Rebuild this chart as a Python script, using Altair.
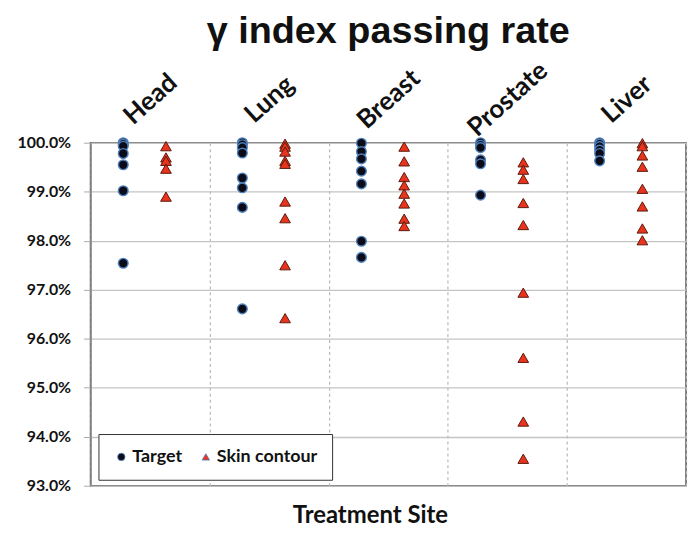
import altair as alt
import pandas as pd

sites = ["Head", "Lung", "Breast", "Prostate", "Liver"]
series = ["Target", "Skin contour"]

# gamma index passing rate (%)
target = {
    "Head": [100.0, 99.97, 99.93, 99.78, 99.55, 99.02, 97.54],
    "Lung": [100.0, 99.96, 99.9, 99.79, 99.28, 99.08, 98.68, 96.61],
    "Breast": [99.99, 99.82, 99.67, 99.42, 99.16, 97.99, 97.66],
    "Prostate": [100.0, 99.95, 99.9, 99.65, 99.57, 98.93],
    "Liver": [100.0, 99.97, 99.92, 99.85, 99.78, 99.63],
}
skin = {
    "Head": [99.93, 99.70, 99.63, 99.47, 98.9],
    "Lung": [99.98, 99.92, 99.82, 99.63, 99.57, 98.8, 98.46, 97.5, 96.42],
    "Breast": [99.92, 99.62, 99.3, 99.13, 98.96, 98.76, 98.45, 98.3],
    "Prostate": [99.6, 99.45, 99.26, 98.77, 98.32, 96.94, 95.61, 94.31, 93.55],
    "Liver": [99.99, 99.93, 99.74, 99.51, 99.06, 98.7, 98.25, 98.01],
}
y_ticks = [93, 94, 95, 96, 97, 98, 99, 100]

rows = []
for s in sites:
    for v in target[s]:
        rows.append({"site": s, "series": "Target", "rate": v / 100})
    for v in skin[s]:
        rows.append({"site": s, "series": "Skin contour", "rate": v / 100})
df = pd.DataFrame(rows)

LABEL_FONT = "Lato"

y_enc = alt.Y(
    "rate:Q",
    scale=alt.Scale(domain=[0.93, 1.0], nice=False, zero=False),
    axis=alt.Axis(
        values=[t / 100 for t in y_ticks],
        format=".1%",
        title=None,
        labelFont=LABEL_FONT,
        labelFontWeight="bold",
        labelFontSize=16,
        labelColor="#111",
        labelPadding=13,
        tickSize=7,
        tickColor="#aaa",
        domainColor="#888",
        domainWidth=1.5,
        gridColor="#c4c4c4",
        gridWidth=1.3,
    ),
)

x_scale = alt.Scale(domain=sites, paddingInner=0, paddingOuter=0)
color = alt.Color(
    "series:N",
    scale=alt.Scale(domain=series, range=["#0c0c18", "#e8341c"]),
    legend=alt.Legend(
        title=None,
        orient="none",
        legendX=8,
        legendY=293,
        direction="horizontal",
        strokeColor="#333",
        fillColor="white",
        padding=14,
        labelFont=LABEL_FONT,
        labelFontWeight="bold",
        labelFontSize=18,
        labelColor="#111",
        labelOffset=2,
        symbolSize=55,
        columnPadding=14,
        symbolStrokeWidth=0.8,
    ),
)
shape = alt.Shape(
    "series:N",
    scale=alt.Scale(domain=series, range=["circle", "triangle-up"]),
)

top_layer = (
    alt.Chart(df)
    .transform_filter(alt.datum.series == "Target")
    .mark_point(filled=True, size=95, opacity=1, stroke="#4f81bd",
                strokeWidth=1.4, xOffset=-27)
    .encode(
        x=alt.X(
            "site:N",
            sort=sites,
            scale=x_scale,
            axis=alt.Axis(
                orient="top",
                title=None,
                labelAngle=-42,
                labelAlign="center",
                labelBaseline="middle",
                labelPadding=44,
                labelFont=LABEL_FONT,
                labelFontWeight="bold",
                labelFontSize=26,
                labelColor="#111",
                ticks=False,
                domain=False,
                grid=True,
                tickBand="extent",
                gridDash=[3, 3],
                gridColor="#b8b8b8",
                gridWidth=1.2,
            ),
        ),
        y=y_enc,
        color=color,
        shape=shape,
    )
)

bottom_layer = (
    alt.Chart(df)
    .transform_filter(alt.datum.series == "Skin contour")
    .mark_point(filled=True, size=115, opacity=1, stroke="#5c1a0e",
                strokeWidth=1, xOffset=16)
    .encode(
        x=alt.X(
            "site:N",
            sort=sites,
            scale=x_scale,
            axis=alt.Axis(
                orient="bottom",
                title="Treatment Site",
                titleFont=LABEL_FONT,
                titleFontWeight="bold",
                titleFontSize=24,
                titleColor="#111",
                titlePadding=18,
                titleX=281,
                labels=False,
                ticks=False,
                domain=False,
                grid=False,
            ),
        ),
        y=y_enc,
        color=color,
        shape=shape,
    )
)

chart = (
    alt.layer(top_layer, bottom_layer)
    .resolve_axis(x="independent")
    .properties(
        width=599,
        height=345,
        autosize=alt.AutoSizeParams(type="none"),
        padding={"left": 83, "top": 134, "right": 5, "bottom": 42},
        title=alt.TitleParams(
            "γ index passing rate",
            font="Liberation Sans",
            fontSize=38,
            fontWeight="bold",
            color="#111",
            anchor="middle",
            offset=6,
        ),
    )
    .configure_view(stroke="#555", strokeWidth=1.5)
)

chart.save("out.html", embed_options={"renderer": "svg", "actions": False})
